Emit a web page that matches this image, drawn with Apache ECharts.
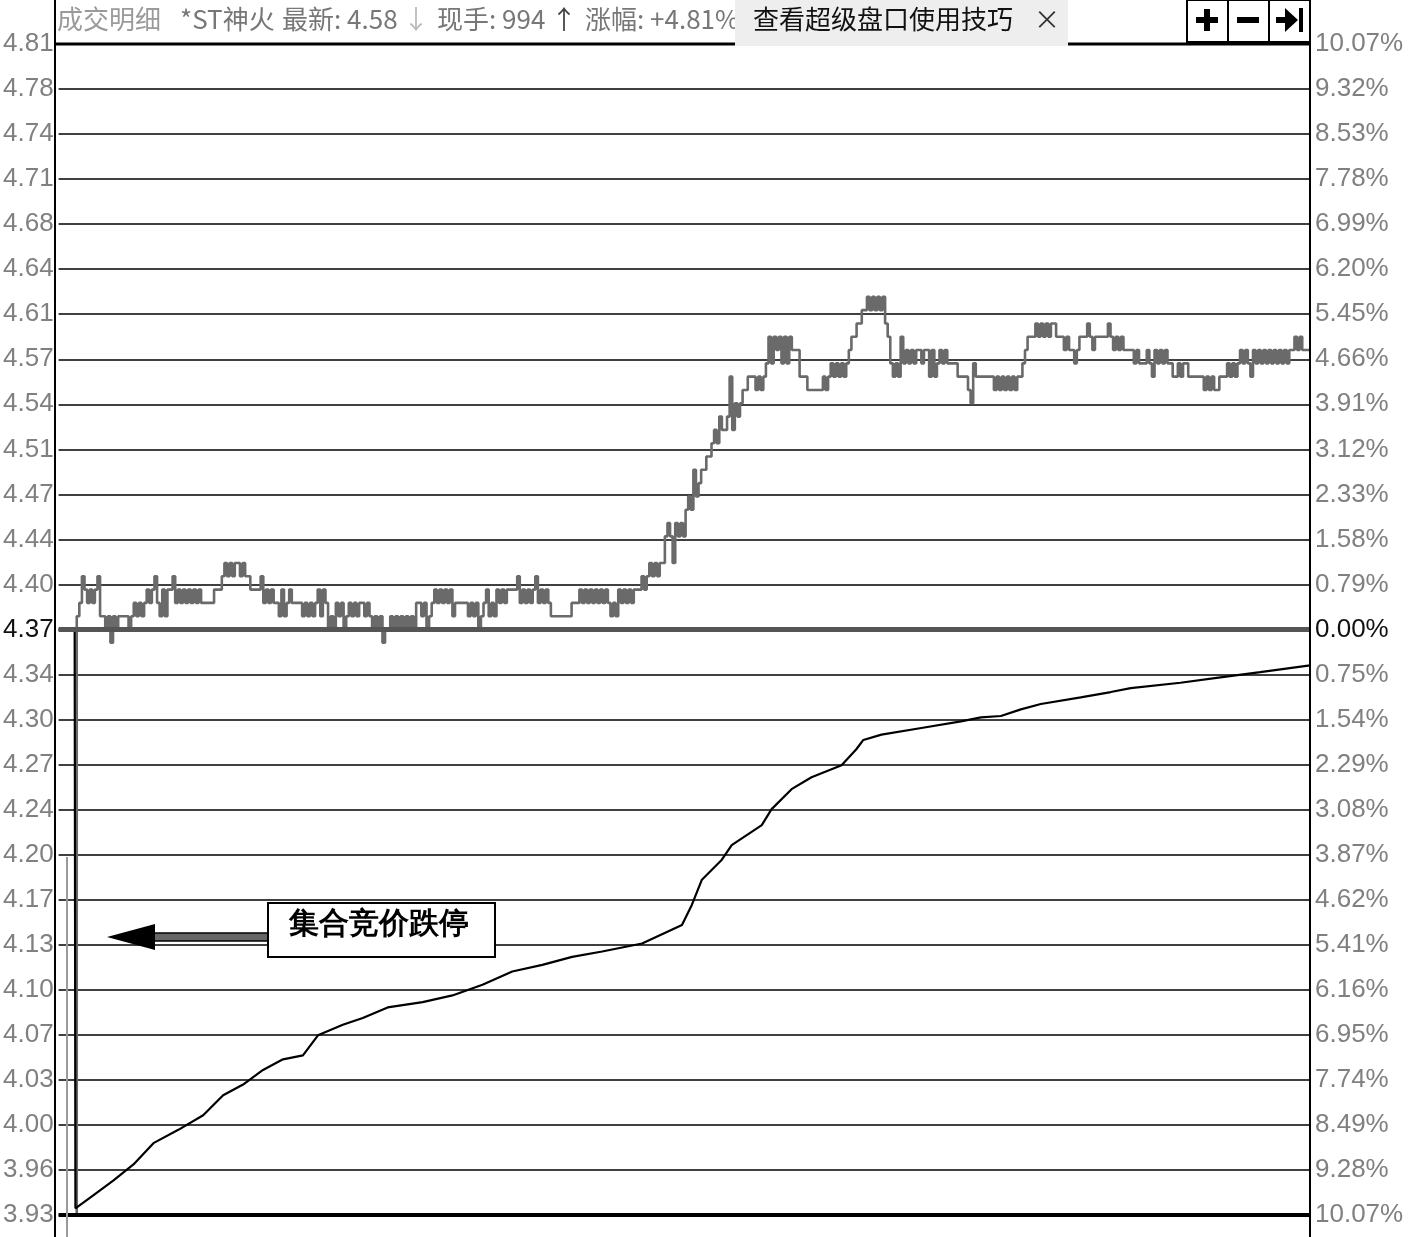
<!DOCTYPE html>
<html>
<head>
<meta charset="utf-8">
<title>*ST神火 成交明细</title>
<script src="https://cdn.jsdelivr.net/npm/echarts@6/dist/echarts.min.js"></script>
<style>
  html, body { margin: 0; padding: 0; background: #fff; }
  #main { width: 1410px; height: 1237px; }
</style>
</head>
<body>
<div id="main"></div>
<script>
// 纵轴刻度 (从上到下)
const leftLabels = ['4.81','4.78','4.74','4.71','4.68','4.64','4.61','4.57','4.54','4.51','4.47','4.44','4.40',
  '4.37','4.34','4.30','4.27','4.24','4.20','4.17','4.13','4.10','4.07','4.03','4.00','3.96','3.93'];
const rightLabels = ['10.07%','9.32%','8.53%','7.78%','6.99%','6.20%','5.45%','4.66%','3.91%','3.12%','2.33%','1.58%','0.79%',
  '0.00%','0.75%','1.54%','2.29%','3.08%','3.87%','4.62%','5.41%','6.16%','6.95%','7.74%','8.49%','9.28%','10.07%'];

const preClose = 4.37;   // 昨收
const lowLimit = 3.93;   // 跌停
const highLimit = 4.81;  // 涨停
const slotCount = 484;   // 横轴成交笔数位置

// 成交价 (从第6个位置开始)
const priceStart = 6;
const prices = [
  3.93, 4.38, 4.39, 4.41, 4.40, 4.39, 4.40, 4.39, 4.40, 4.41,
  4.38, 4.38, 4.37, 4.38, 4.36, 4.38, 4.37, 4.38, 4.38, 4.38,
  4.38, 4.37, 4.38, 4.39, 4.38, 4.39, 4.38, 4.39, 4.40, 4.39,
  4.40, 4.41, 4.39, 4.38, 4.40, 4.38, 4.40, 4.40, 4.41, 4.39,
  4.40, 4.39, 4.40, 4.39, 4.40, 4.39, 4.40, 4.39, 4.40, 4.39,
  4.39, 4.39, 4.39, 4.39, 4.40, 4.40, 4.40, 4.41, 4.42, 4.41,
  4.42, 4.41, 4.42, 4.42, 4.41, 4.42, 4.41, 4.41, 4.40, 4.40,
  4.40, 4.40, 4.41, 4.39, 4.40, 4.39, 4.40, 4.39, 4.39, 4.38,
  4.40, 4.38, 4.39, 4.40, 4.39, 4.39, 4.39, 4.39, 4.38, 4.39,
  4.38, 4.39, 4.38, 4.39, 4.40, 4.38, 4.40, 4.39, 4.37, 4.38,
  4.37, 4.39, 4.38, 4.39, 4.37, 4.38, 4.39, 4.38, 4.39, 4.38,
  4.39, 4.39, 4.38, 4.39, 4.38, 4.37, 4.38, 4.37, 4.38, 4.36,
  4.37, 4.37, 4.38, 4.37, 4.38, 4.37, 4.38, 4.37, 4.38, 4.37,
  4.38, 4.37, 4.39, 4.39, 4.38, 4.39, 4.37, 4.38, 4.39, 4.40,
  4.39, 4.40, 4.39, 4.40, 4.39, 4.40, 4.38, 4.39, 4.39, 4.39,
  4.39, 4.39, 4.38, 4.39, 4.38, 4.39, 4.37, 4.38, 4.39, 4.40,
  4.38, 4.39, 4.38, 4.40, 4.39, 4.40, 4.39, 4.40, 4.40, 4.40,
  4.40, 4.41, 4.39, 4.40, 4.39, 4.40, 4.39, 4.40, 4.41, 4.39,
  4.40, 4.39, 4.40, 4.39, 4.38, 4.38, 4.38, 4.38, 4.38, 4.38,
  4.38, 4.38, 4.39, 4.39, 4.39, 4.40, 4.39, 4.40, 4.39, 4.40,
  4.39, 4.40, 4.39, 4.40, 4.39, 4.40, 4.39, 4.38, 4.39, 4.38,
  4.40, 4.39, 4.40, 4.39, 4.40, 4.39, 4.40, 4.40, 4.40, 4.41,
  4.40, 4.41, 4.42, 4.41, 4.42, 4.41, 4.42, 4.42, 4.44, 4.45,
  4.44, 4.42, 4.45, 4.44, 4.45, 4.44, 4.46, 4.47, 4.46, 4.49,
  4.47, 4.48, 4.49, 4.49, 4.50, 4.50, 4.51, 4.52, 4.51, 4.53,
  4.52, 4.52, 4.53, 4.56, 4.52, 4.54, 4.53, 4.54, 4.55, 4.55,
  4.56, 4.56, 4.56, 4.55, 4.56, 4.55, 4.56, 4.57, 4.59, 4.57,
  4.59, 4.58, 4.59, 4.57, 4.59, 4.57, 4.59, 4.58, 4.58, 4.58,
  4.56, 4.56, 4.56, 4.55, 4.55, 4.55, 4.55, 4.55, 4.55, 4.56,
  4.55, 4.56, 4.57, 4.56, 4.57, 4.56, 4.57, 4.56, 4.57, 4.58,
  4.59, 4.59, 4.60, 4.60, 4.61, 4.61, 4.62, 4.61, 4.62, 4.61,
  4.62, 4.61, 4.62, 4.60, 4.59, 4.57, 4.56, 4.57, 4.56, 4.59,
  4.57, 4.58, 4.57, 4.58, 4.57, 4.58, 4.58, 4.57, 4.58, 4.58,
  4.56, 4.58, 4.56, 4.57, 4.58, 4.57, 4.58, 4.57, 4.57, 4.57,
  4.57, 4.56, 4.56, 4.56, 4.56, 4.55, 4.54, 4.57, 4.56, 4.56,
  4.56, 4.56, 4.56, 4.56, 4.56, 4.55, 4.56, 4.55, 4.56, 4.55,
  4.56, 4.55, 4.56, 4.55, 4.56, 4.56, 4.57, 4.58, 4.59, 4.59,
  4.59, 4.60, 4.59, 4.60, 4.59, 4.60, 4.59, 4.60, 4.60, 4.59,
  4.59, 4.59, 4.58, 4.59, 4.58, 4.58, 4.57, 4.58, 4.59, 4.59,
  4.59, 4.60, 4.59, 4.58, 4.59, 4.59, 4.59, 4.59, 4.59, 4.60,
  4.59, 4.58, 4.59, 4.58, 4.59, 4.58, 4.58, 4.58, 4.58, 4.57,
  4.58, 4.57, 4.57, 4.57, 4.58, 4.57, 4.56, 4.58, 4.57, 4.58,
  4.57, 4.58, 4.57, 4.57, 4.56, 4.56, 4.57, 4.56, 4.57, 4.57,
  4.56, 4.56, 4.56, 4.56, 4.56, 4.56, 4.55, 4.56, 4.55, 4.56,
  4.55, 4.55, 4.56, 4.56, 4.56, 4.57, 4.56, 4.57, 4.56, 4.57,
  4.58, 4.57, 4.58, 4.57, 4.56, 4.58, 4.57, 4.58, 4.57, 4.58,
  4.57, 4.58, 4.57, 4.58, 4.57, 4.58, 4.57, 4.58, 4.57, 4.58,
  4.58, 4.59, 4.58, 4.59, 4.58, 4.58, 4.58, 4.58
];

// 均价线
const avgSlots = [0, 6.2, 6.5, 13.5, 21.2, 28.9, 36.6, 46.2, 55.8, 63.5,
  71.2, 78.9, 86.6, 94.3, 100.1, 109.7, 117.4, 127, 140.5, 152,
  163.6, 175.1, 186.7, 198.2, 209.8, 225.2, 232.9, 240.6, 244.4, 248.3,
  256, 259.8, 271.4, 275.2, 282.9, 290.6, 302.2, 307.9, 310.6, 317.6,
  333, 348.3, 356, 363.7, 371.4, 379.1, 394.5, 406.1, 413.8, 433,
  448.4, 463.8, 483];
const avgValues = [4.37, 4.37, 3.935, 3.945, 3.956, 3.968, 3.984, 3.994, 4.005, 4.020,
  4.028, 4.039, 4.047, 4.050, 4.065, 4.073, 4.078, 4.086, 4.090, 4.095,
  4.103, 4.113, 4.118, 4.124, 4.128, 4.134, 4.141, 4.148, 4.163, 4.182,
  4.197, 4.208, 4.223, 4.235, 4.250, 4.259, 4.268, 4.280, 4.287, 4.291,
  4.296, 4.301, 4.304, 4.305, 4.310, 4.314, 4.319, 4.323, 4.326, 4.330,
  4.334, 4.338, 4.343];

const step = (highLimit - lowLimit) / 26;
const tickIndex = v => 26 - Math.round((v - lowLimit) / step);
const numFont = "'Liberation Sans', Arial, sans-serif";
const cjkFont = "'Noto Sans CJK SC', sans-serif";

let myChart = echarts.init(document.getElementById('main'));

const headText = (x, text, color) => ({
  type: 'text', left: x, top: 6, z: 104,
  style: { text: text, fill: color, font: '26px ' + cjkFont }
});

myChart.setOption({
  animation: false,
  backgroundColor: '#fff',
  grid: { left: 55, right: 100, top: 44, bottom: 22 },
  xAxis: {
    type: 'value', min: 0, max: slotCount - 1,
    show: false
  },
  yAxis: [{
    type: 'value', min: lowLimit, max: highLimit, interval: step,
    axisLine: { show: false }, axisTick: { show: false },
    axisLabel: {
      margin: 5, fontSize: 26, fontFamily: numFont, padding: [4, 0, 0, 0],
      color: v => tickIndex(v) === 13 ? '#111' : '#808080',
      formatter: v => leftLabels[tickIndex(v)]
    },
    splitLine: { lineStyle: { color: '#404040', width: 2 } }
  }, {
    type: 'value', min: lowLimit, max: highLimit, interval: step,
    position: 'right',
    axisLine: { show: false }, axisTick: { show: false },
    axisLabel: {
      margin: 5, fontSize: 26, fontFamily: numFont, padding: [4, 0, 0, 0],
      color: v => tickIndex(v) === 13 ? '#111' : '#808080',
      formatter: v => rightLabels[tickIndex(v)]
    },
    splitLine: { show: false }
  }],
  series: [{
    name: '成交价',
    type: 'line',
    step: 'end',
    symbol: 'none',
    data: prices.map((v, i) => [priceStart + i, v]),
    lineStyle: { color: '#6a6a6a', width: 2.6 },
    z: 3
  }, {
    name: '均价',
    type: 'line',
    symbol: 'none',
    data: avgSlots.map((s, i) => [s, avgValues[i]]),
    lineStyle: { color: '#000', width: 2.2 },
    z: 4,
    markLine: {
      silent: true, symbol: 'none', label: { show: false },
      data: [
        { yAxis: preClose, lineStyle: { color: '#555', width: 5, type: 'solid' } },
        { yAxis: lowLimit, lineStyle: { color: '#000', width: 4, type: 'solid' } }
      ]
    }
  }],
  graphic: [
    // 边框
    { type: 'line', z: 100, shape: { x1: 55, y1: 0, x2: 55, y2: 1237 }, style: { stroke: '#000', lineWidth: 2 } },
    { type: 'line', z: 100, shape: { x1: 1310, y1: 0, x2: 1310, y2: 1237 }, style: { stroke: '#000', lineWidth: 2 } },
    { type: 'line', z: 100, shape: { x1: 55, y1: 44, x2: 735, y2: 44 }, style: { stroke: '#000', lineWidth: 3 } },
    { type: 'line', z: 100, shape: { x1: 1068, y1: 44, x2: 1310, y2: 44 }, style: { stroke: '#000', lineWidth: 3 } },
    { type: 'line', z: 100, shape: { x1: 67, y1: 857, x2: 67, y2: 1237 }, style: { stroke: '#9a9a9a', lineWidth: 2 } },
    // 标题栏
    headText(57, '成交明细', '#9a9a9a'),
    headText(180, '*ST神火', '#777'),
    headText(282, '最新: 4.58', '#777'),
    headText(403, '↓', '#bbb'),
    headText(437, '现手: 994', '#777'),
    headText(551, '↑', '#444'),
    headText(585, '涨幅: +4.81%', '#777'),
    { type: 'rect', z: 105, shape: { x: 735, y: 0, width: 333, height: 46 }, style: { fill: '#eeeeee' } },
    { type: 'text', z: 110, left: 753, top: 6, style: { text: '查看超级盘口使用技巧', fill: '#111', font: '26px ' + cjkFont } },
    { type: 'text', z: 110, left: 1034, top: 6, style: { text: '×', fill: '#333', font: '26px ' + cjkFont } },
    // 按钮
    { type: 'rect', z: 110, shape: { x: 1187, y: 0, width: 41, height: 42 }, style: { fill: '#fff', stroke: '#000', lineWidth: 2 } },
    { type: 'rect', z: 110, shape: { x: 1228, y: 0, width: 41, height: 42 }, style: { fill: '#fff', stroke: '#000', lineWidth: 2 } },
    { type: 'rect', z: 110, shape: { x: 1269, y: 0, width: 41, height: 42 }, style: { fill: '#fff', stroke: '#000', lineWidth: 2 } },
    { type: 'rect', z: 111, shape: { x: 1196, y: 17, width: 22, height: 6 }, style: { fill: '#000' } },
    { type: 'rect', z: 111, shape: { x: 1204, y: 9, width: 6, height: 22 }, style: { fill: '#000' } },
    { type: 'rect', z: 111, shape: { x: 1237, y: 17, width: 22, height: 6 }, style: { fill: '#000' } },
    { type: 'rect', z: 111, shape: { x: 1276, y: 17, width: 10, height: 6 }, style: { fill: '#000' } },
    { type: 'polygon', z: 111, shape: { points: [[1285, 8], [1298, 20], [1285, 32]] }, style: { fill: '#000' } },
    { type: 'rect', z: 111, shape: { x: 1299, y: 8, width: 4, height: 24 }, style: { fill: '#000' } },
    // 标注
    { type: 'rect', z: 110, shape: { x: 153, y: 933, width: 115, height: 8 }, style: { fill: '#666', stroke: '#000', lineWidth: 1.5 } },
    { type: 'polygon', z: 111, shape: { points: [[107, 937], [155, 924], [155, 950]] }, style: { fill: '#000' } },
    { type: 'rect', z: 110, shape: { x: 268, y: 903, width: 227, height: 54 }, style: { fill: '#fff', stroke: '#000', lineWidth: 2 } },
    { type: 'text', z: 111, left: 289, top: 910, style: { text: '集合竞价跌停', fill: '#000', font: 'bold 30px serif' } }
  ]
});
</script>
</body>
</html>
